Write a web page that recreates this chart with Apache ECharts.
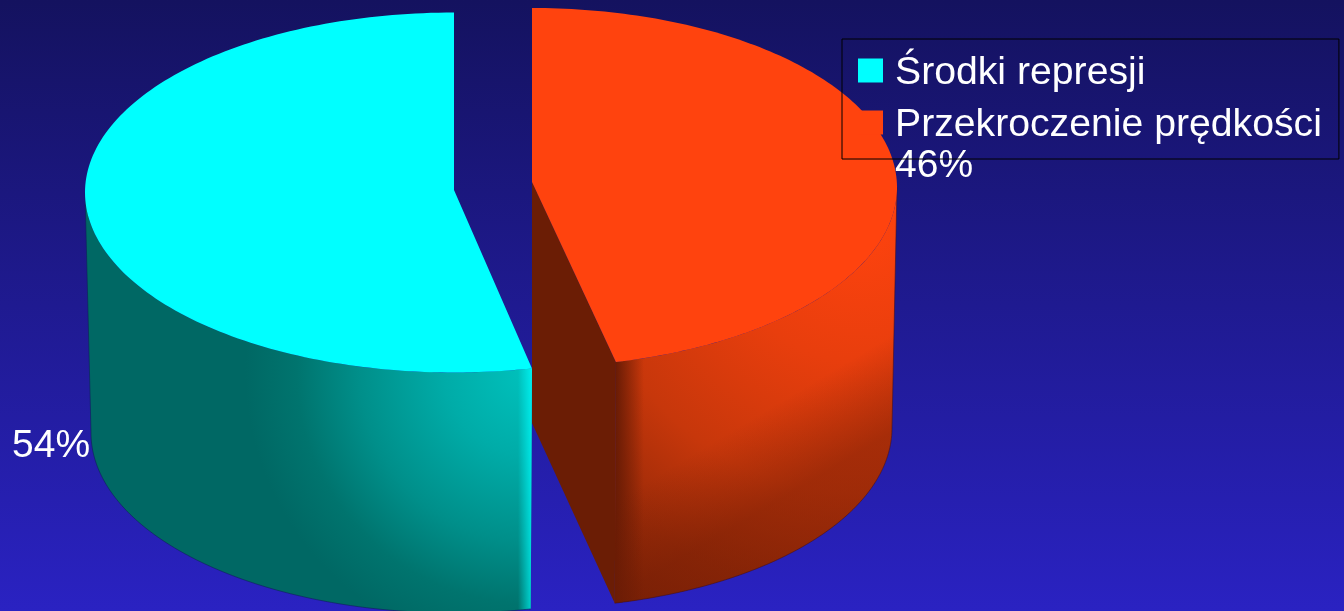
<!DOCTYPE html>
<html>
<head>
<meta charset="utf-8">
<style>html,body{margin:0;padding:0;background:#14125f}#c{width:1344px;height:611px}</style>
<script src="https://cdn.jsdelivr.net/npm/echarts@6/dist/echarts.min.js"></script>
</head>
<body>
<div id="c"></div>
<script>
const categories = ['Środki represji', 'Przekroczenie prędkości'];
const shares = [54, 46];
const tickSuffix = '%';

const G = echarts.graphic;
const total = shares.reduce((a, b) => a + b, 0);

// drawing geometry of each exploded slice (3-D projection, not data)
const geometry = [
  { dir: -1, warp: -4.56, top: { cx: 454, cy: 192.5, rx: 369, ry: 180 }, bot: { cx: 454, cy: 433, rx: 363, ry: 180 },
    vertexY: 190, label: { x: 12, y: 427 }, color: '#00ffff' },
  { dir: 1, warp: -2.3, top: { cx: 532, cy: 187.4, rx: 365, ry: 179.4 }, bot: { cx: 532, cy: 428, rx: 360, ry: 180 },
    vertexY: 182, label: { x: 895, y: 147 }, color: '#ff430e' }
];

function pt(e, dir, deg) {
  const a = deg * Math.PI / 180;
  return [e.cx + dir * e.rx * Math.sin(a), e.cy - e.ry * Math.cos(a)];
}
function arc(e, dir, from, to) {
  const out = [], n = 160;
  for (let i = 0; i <= n; i++) out.push(pt(e, dir, from + (to - from) * i / n));
  return out;
}
function sideBand(g, from, to) {
  return arc(g.top, g.dir, from, to).concat(arc(g.bot, g.dir, to, from));
}
function renderSlice(index) {
  return function (params, api) {
    const g = geometry[index];
    const sweep = api.value(0) / total * 360;
    const end = sweep + g.warp * Math.sin(2 * sweep * Math.PI / 180);
    const kids = [];
    const poly = (points, fill, z2) => kids.push({
      type: 'polygon', z2: z2, shape: { points: points }, style: { fill: fill }
    });
    const edge = (points, stroke) => kids.push({
      type: 'polyline', z2: 3, shape: { points: points }, style: { fill: null, stroke: stroke, lineWidth: 1 }
    });
    const topFace = [[g.top.cx, g.vertexY]].concat(arc(g.top, g.dir, 0, end));
    const outline = [pt(g.top, g.dir, 90)].concat(arc(g.bot, g.dir, 90, end));
    if (index === 0) {
      poly(sideBand(g, 90, end), new G.RadialGradient(530, 370, 285, [
        { offset: 0, color: '#00c2bd' }, { offset: 0.3, color: '#00aca8' },
        { offset: 0.6, color: '#008f8a' }, { offset: 0.82, color: '#00746e' },
        { offset: 1, color: '#006864' }], true), 1);
      poly(sideBand(g, end - 6, end), new G.LinearGradient(518, 0, 532, 0, [
        { offset: 0, color: 'rgba(0,255,255,0)' }, { offset: 1, color: 'rgba(0,255,255,0.72)' }], true), 2);
      edge(outline, 'rgba(15,30,90,0.6)');
      kids.push({ type: 'line', z2: 3, shape: { x1: g.top.cx - 0.5, y1: 95, x2: g.top.cx - 0.5, y2: g.vertexY },
        style: { stroke: '#00b4a8', lineWidth: 1 } });
    } else {
      const a = pt(g.top, g.dir, end), b = pt(g.bot, g.dir, end);
      poly(sideBand(g, 90, end), new G.RadialGradient(860, 220, 470, [
        { offset: 0, color: '#ff430e' }, { offset: 0.3, color: '#e83e0d' },
        { offset: 0.58, color: '#c7370b' }, { offset: 0.8, color: '#992a08' },
        { offset: 1, color: '#7c2106' }], true), 1);
      poly(sideBand(g, end - 12, end), new G.LinearGradient(a[0], 0, a[0] + 28, 0, [
        { offset: 0, color: 'rgba(106,28,5,1)' }, { offset: 1, color: 'rgba(106,28,5,0)' }], true), 2);
      poly(sideBand(g, 90, end), new G.LinearGradient(850, 360, 893, 432, [
        { offset: 0, color: 'rgba(110,28,5,0)' }, { offset: 1, color: 'rgba(110,28,5,0.45)' }], true), 2);
      edge(outline, 'rgba(60,15,40,0.6)');
      poly([[g.top.cx, g.vertexY], a, b, [g.bot.cx, g.vertexY + 241]], '#6b1d05', 4);
    }
    poly(topFace, g.color, 5);
    kids.push({
      type: 'text', z2: 10, x: g.label.x, y: g.label.y,
      style: { text: api.value(0) + tickSuffix, fill: '#ffffff', font: '39px "Liberation Sans"',
        textAlign: 'left', verticalAlign: 'top' }
    });
    return { type: 'group', children: kids };
  };
}

const chart = echarts.init(document.getElementById('c'), null, { renderer: 'canvas' });
chart.setOption({
  animation: false,
  backgroundColor: new G.LinearGradient(0, 0, 0, 1, [
    { offset: 0, color: '#14125f' }, { offset: 1, color: '#2a22c2' }]),
  legend: {
    left: 842, top: 39, orient: 'vertical', selectedMode: false,
    icon: 'rect', itemWidth: 25, itemHeight: 24, itemGap: 7,
    padding: [9, 17, 14, 16], borderColor: '#000000', borderWidth: 1,
    formatter: name => '{t|' + name + '}',
    textStyle: {
      rich: { t: { color: '#ffffff', fontFamily: 'Liberation Sans', fontSize: 39.2, lineHeight: 39, padding: [6, 0, 0, 7] } }
    },
    data: categories.map(n => ({ name: n, icon: 'rect' }))
  },
  series: categories.map((name, i) => ({
    type: 'custom', name: name, coordinateSystem: 'none', silent: true, clip: false,
    itemStyle: { color: geometry[i].color },
    data: [[shares[i]]], renderItem: renderSlice(i), z: 2
  }))
});
</script>
</body>
</html>
